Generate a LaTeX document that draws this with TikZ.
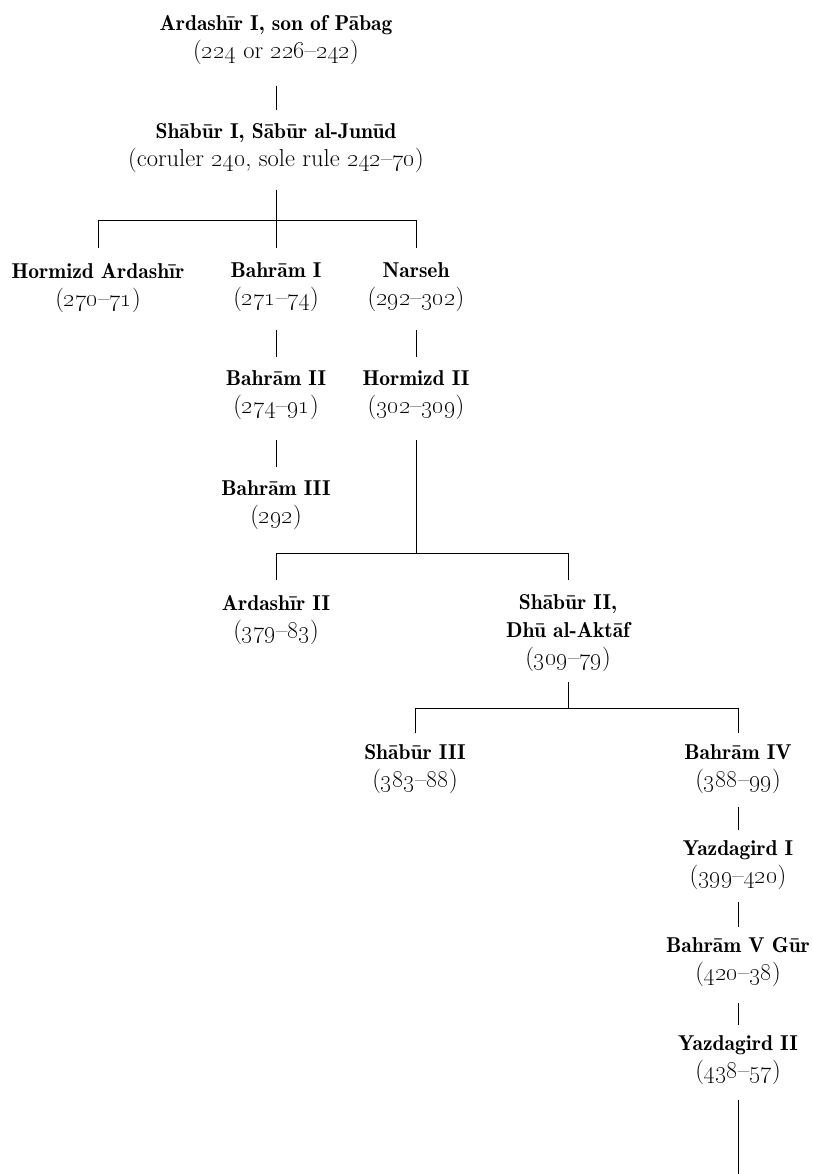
\documentclass[tikz,border=0pt]{standalone}
\newcommand\osn[1]{\oldstylenums{#1}}
\newcommand\nmb[1]{{\fontsize{21.5}{28}\fontseries{b}\selectfont #1}}
\newcommand\dtx[1]{{\fontsize{24.5}{28}\selectfont #1}}
\begin{document}
\begin{tikzpicture}[x=1pt,y=-1pt,
  person/.style={inner sep=0pt, outer sep=0pt, align=center, anchor=north, font=\fontsize{21}{28}\selectfont},
  conn/.style={line width=1pt, line cap=butt}]
\useasboundingbox (0,0) rectangle (812,1174);

\node[person] (a1) at (276,15) {\nmb{Ardashīr I, son of Pābag}\\\dtx{(\osn{224} or \osn{226}–\osn{242})}};
\node[person] (s1) at (276,124) {\nmb{Shābūr I, Sābūr al-Junūd}\\\dtx{(coruler \osn{240}, sole rule \osn{242}–\osn{70})}};
\node[person] (hA) at (98,263) {\nmb{Hormizd Ardashīr}\\\dtx{(\osn{270}–\osn{71})}};
\node[person] (b1) at (276,263) {\nmb{Bahrām I}\\\dtx{(\osn{271}–\osn{74})}};
\node[person] (n) at (416,263) {\nmb{Narseh}\\\dtx{(\osn{292}–\osn{302})}};
\node[person] (b2) at (276,371) {\nmb{Bahrām II}\\\dtx{(\osn{274}–\osn{91})}};
\node[person] (h2) at (416,371) {\nmb{Hormizd II}\\\dtx{(\osn{302}–\osn{309})}};
\node[person] (b3) at (276,481) {\nmb{Bahrām III}\\\dtx{(\osn{292})}};
\node[person] (a2) at (276,595) {\nmb{Ardashīr II}\\\dtx{(\osn{379}–\osn{83})}};
\node[person] (s2) at (568,595) {\nmb{Shābūr II,}\\\nmb{Dhū al-Aktāf}\\\dtx{(\osn{309}–\osn{79})}};
\node[person] (s3) at (415,745) {\nmb{Shābūr III}\\\dtx{(\osn{383}–\osn{88})}};
\node[person] (b4) at (738,745) {\nmb{Bahrām IV}\\\dtx{(\osn{388}–\osn{99})}};
\node[person] (y1) at (738,841) {\nmb{Yazdagird I}\\\dtx{(\osn{399}–\osn{420})}};
\node[person] (b5) at (738,938) {\nmb{Bahrām V Gūr}\\\dtx{(\osn{420}–\osn{38})}};
\node[person] (y2) at (738,1036) {\nmb{Yazdagird II}\\\dtx{(\osn{438}–\osn{57})}};

\coordinate (j1) at (276,221);
\coordinate (j2) at (416,553);
\coordinate (j3) at (568,708);
\coordinate (tail) at (738,1174);

\draw[conn, shorten <=22pt, shorten >=14pt] (a1) -- (s1);
\draw[conn, shorten <=17pt] (s1) -- (j1);
\draw[conn, shorten <=15pt] (hA) |- (j1);
\draw[conn, shorten <=15pt] (n) |- (j1);
\draw[conn, shorten >=15pt] (j1) -- (b1);
\draw[conn, shorten <=18pt, shorten >=14pt] (b1) -- (b2);
\draw[conn, shorten <=18pt, shorten >=14pt] (n) -- (h2);
\draw[conn, shorten <=20pt, shorten >=14pt] (b2) -- (b3);
\draw[conn, shorten <=20pt] (h2) -- (j2);
\draw[conn, shorten <=15pt] (a2) |- (j2);
\draw[conn, shorten <=15pt] (s2) |- (j2);
\draw[conn, shorten <=10pt] (s2) -- (j3);
\draw[conn, shorten <=12pt] (s3) |- (j3);
\draw[conn, shorten <=12pt] (b4) |- (j3);
\draw[conn, shorten <=13pt, shorten >=11pt] (b4) -- (y1);
\draw[conn, shorten <=12pt, shorten >=11pt] (y1) -- (b5);
\draw[conn, shorten <=16pt, shorten >=11pt] (b5) -- (y2);
\draw[conn, shorten <=15pt] (y2) -- (tail);
\end{tikzpicture}
\end{document}
